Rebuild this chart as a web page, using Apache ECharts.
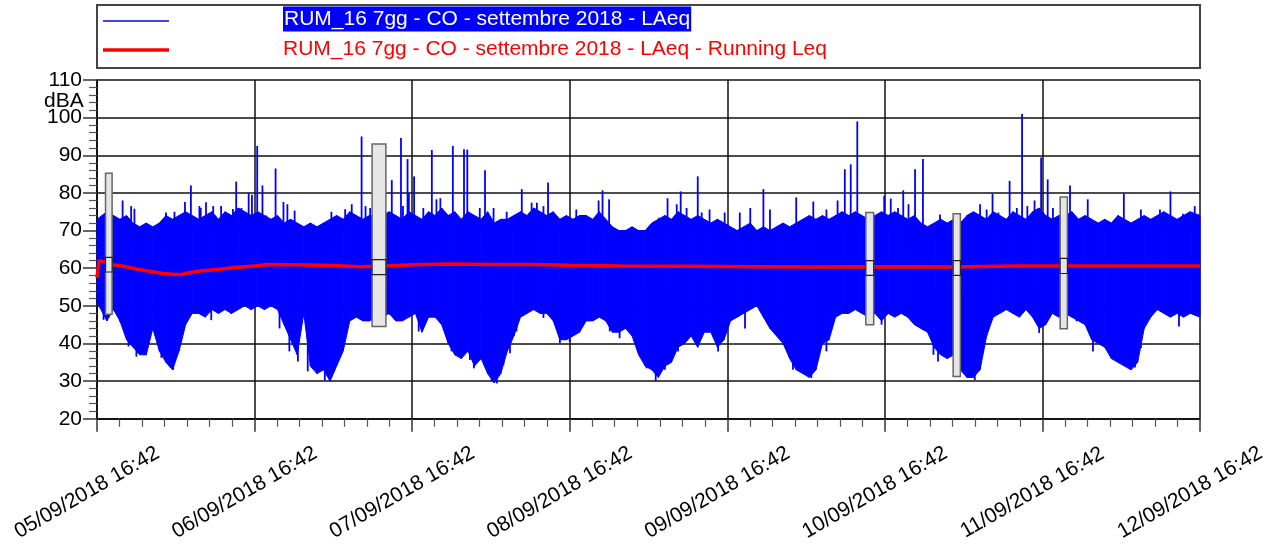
<!DOCTYPE html>
<html>
<head>
<meta charset="utf-8">
<script src="https://cdn.jsdelivr.net/npm/echarts@6/dist/echarts.min.js"></script>
<style>
  html, body { margin: 0; padding: 0; background: #fff; }
  #chart { width: 1278px; height: 544px; }
</style>
</head>
<body>
<div id="chart"></div>
<script>
const seriesNames = [
  "RUM_16 7gg - CO - settembre 2018 - LAeq",
  "RUM_16 7gg - CO - settembre 2018 - LAeq - Running Leq",
];
const xTickLabels = [
  "05/09/2018 16:42", "06/09/2018 16:42", "07/09/2018 16:42", "08/09/2018 16:42",
  "09/09/2018 16:42", "10/09/2018 16:42", "11/09/2018 16:42", "12/09/2018 16:42",
];

// LAeq envelope, one value per hour from 05/09 16:42
const laeqHigh = [
  73, 75, 74, 73, 74, 72, 71, 72, 71, 72, 74, 73, 74, 75, 74, 73, 74, 75, 73, 75, 74, 76, 75, 74,
  75, 74, 73, 74, 72, 73, 72, 71, 72, 71, 72, 73, 74, 73, 75, 74, 73, 74, 74, 74, 75, 74, 73, 75,
  74, 73, 75, 74, 76, 74, 75, 73, 75, 74, 73, 75, 72, 73, 73, 74, 75, 74, 76, 75, 74, 75, 73, 74,
  73, 74, 74, 73, 75, 73, 71, 70, 70, 71, 70, 70, 72, 73, 74, 73, 75, 74, 73, 74, 73, 72, 73, 72,
  71, 70, 71, 72, 70, 71, 70, 71, 72, 71, 72, 73, 74, 73, 74, 73, 74, 75, 74, 75, 74, 73, 74, 75,
  74, 75, 74, 73, 74, 72, 71, 72, 73, 72, 73, 72, 74, 75, 74, 73, 75, 74, 73, 75, 74, 73, 75, 76,
  74, 73, 74, 74, 75, 73, 74, 73, 72, 73, 72, 74, 73, 72, 73, 74, 73, 74, 75, 74, 73, 74, 75, 74,
];
const laeqLow = [
  51, 46, 49, 46, 41, 39, 37, 37, 44, 38, 35, 33, 38, 45, 48, 48, 47, 49, 48, 49, 48, 49, 50, 49,
  50, 49, 50, 49, 45, 41, 37, 48, 34, 32, 33, 30, 34, 38, 46, 47, 46, 46, 47, 47, 48, 46, 46, 47,
  48, 43, 47, 47, 45, 40, 37, 36, 38, 34, 36, 32, 29.5, 32, 38, 42, 47, 48, 49, 48, 48, 46, 41, 41,
  42, 43, 46, 46, 47, 46, 43, 43, 44, 42, 37, 34, 33, 31, 34, 35, 39, 40, 42, 39, 43, 43, 39, 41,
  46, 47, 48, 49, 50, 47, 44, 42, 40, 36, 33, 32, 31, 33, 40, 41, 47, 48, 48, 49, 48, 47, 48, 46,
  48, 47, 48, 47, 45, 44, 43, 39, 37, 36, 37, 33, 31, 31, 33, 42, 47, 48, 49, 48, 47, 49, 47, 44,
  45, 48, 47, 48, 47, 46, 45, 41, 40, 39, 36, 35, 34, 33, 35, 44, 47, 49, 48, 47, 48, 47, 48, 47,
];

// isolated peaks above the envelope
const spikeHours = [
  3.9, 5.2, 5.7, 10.5, 11.8, 13.4, 14.3, 15.6, 15.8, 16.6, 17.7, 18.9, 20.7, 21.2, 22, 23.1, 23.6,
  24.4, 25.2, 25.8, 27.2, 28.4, 29, 30.1, 35.7, 37.8, 38.8, 40.3, 40.9, 41.6,
  44.9, 46.3, 46.6, 47.3, 47.5, 48.3, 49.7, 51, 51.7, 52.3, 54.2, 55.9, 56.4, 58.3, 59.1, 60.4,
  62.4, 64.7, 66.2, 67, 68, 68.7, 73, 76.4, 77, 78,
  85.6, 86.9, 88.3, 88.9, 89.8, 91.5, 92.1, 93.3, 95.6, 97.9, 99.5, 101.5, 102.5, 106.5, 109.1,
  111.1, 112.8, 113.9, 114.8, 115.8, 119.9, 120.9, 122, 122.8, 123.6, 124.6, 125.8,
  128.4, 134.5, 135.5, 136.4, 137.3, 139, 140.1, 140.9, 141.7, 142.8, 143.8, 144.8, 145.6,
  148.2, 150.9, 156.4, 159, 161.9, 163.5, 165.4, 167.2,
];
const spikeValues = [
  78, 76.5, 75.8, 74.8, 75, 77.6, 82, 76.5, 76, 77.5, 76.5, 76.5, 75.7, 83, 76, 80, 79.5,
  92.5, 82, 74, 86.5, 77.6, 77, 75.3, 75, 75.7, 77, 95, 76.5, 76,
  83.4, 94.6, 76.5, 89, 80, 84.4, 76, 91.4, 78.3, 78.6, 92.5, 91.6, 91.5, 76, 86, 76,
  75, 81, 77.4, 77.4, 76.5, 82.8, 75.6, 78, 80.7, 78.3,
  73.4, 78.6, 77, 80.4, 76, 84.4, 74.8, 75.6, 74.8, 74.8, 76, 81, 75.6, 78.8, 77.7,
  75.6, 78, 86.3, 87.6, 99, 79.2, 78.5, 76, 80.7, 77, 86.3, 89,
  74.3, 77, 75.6, 79.8, 74.8, 83.2, 76, 101, 76.5, 78, 89.4, 83.6, 76,
  82, 78.3, 79.8, 75.6, 75.6, 80.4, 74.5, 76.5,
];

// isolated dips below the envelope
const dipHours = [
  1, 3.5, 4.8, 6, 7.3, 9.8, 11.6, 12.8, 14.9, 17.4, 20.4, 23.4, 27.8, 29.3, 30.6, 32.1, 34.7, 36.1, 37.2,
  44.6, 46.6, 49, 53.3, 54, 55.2, 56.8, 57.4, 59.1, 60.1, 60.9, 61.9, 62.9, 63.9, 68, 70.5, 72,
  78.1, 79.6, 82.9, 83.7, 85.1, 86.5, 88.5, 91.3, 94.6, 98.7, 103.8, 106, 108.8, 111.1, 119.5, 125.8,
  127.4, 128.1, 132.4, 133.7, 134.5, 135.7, 140.6, 143.5, 149.2, 151.7, 155.8, 156.8, 158.1, 159, 164.8,
];
const dipValues = [
  46.3, 45.8, 39.2, 36.5, 37, 36.2, 33, 40.5, 48, 46.2, 47.9, 49, 44, 37.9, 35.2, 32.6, 30.2, 32.6, 40.3,
  47.6, 46.3, 43.2, 42.8, 37.9, 36.5, 35.6, 33.4, 35.2, 30, 29.4, 34.3, 37.4, 43.2, 46.8, 40.1, 40.5,
  43.2, 41.4, 37, 33.4, 30, 33, 37.9, 39.6, 37.9, 44, 42.3, 33, 30.8, 37.9, 45, 43.6,
  37, 35.2, 33.4, 30.3, 34.3, 43.2, 47.6, 42.8, 45.9, 37.9, 35.2, 33.9, 33.6, 38.8, 44.5,
];

// running Leq
const leqHours = [0, 0.3, 1, 2, 4, 6, 8, 10, 12, 13, 14, 16, 18, 20, 22, 24, 26, 30, 36, 40, 44, 48,
  54, 60, 66, 72, 80, 90, 100, 110, 120, 130, 140, 150, 160, 168];
const leqValues = [57.5, 62, 61.8, 61, 60.5, 59.8, 59.2, 58.6, 58.3, 58.4, 58.8, 59.3, 59.6, 60, 60.3,
  60.6, 61, 60.9, 60.7, 60.4, 60.6, 60.9, 61.1, 61, 61, 60.8, 60.6, 60.5, 60.4, 60.3, 60.4, 60.3,
  60.6, 60.6, 60.6, 60.6];

// grey event boxes
const boxStart = [1.3, 41.9, 117.1, 130.4, 146.7];
const boxEnd = [2.3, 44, 118.3, 131.5, 147.8];
const boxLow = [47.8, 44.5, 45, 31.2, 43.9];
const boxHigh = [85.2, 93, 74.8, 74.5, 78.9];
const boxQ1 = [59, 58.3, 58.1, 58.1, 58.6];
const boxQ3 = [62.9, 62.3, 62, 62, 62.6];

const font = "Liberation Sans, Arial, sans-serif";
const chart = echarts.init(document.getElementById("chart"));

// vertex time of each hourly value (first and last pinned to the axis ends)
const last = laeqLow.length - 1;
const vertexTime = (i) => (i === 0 ? 0 : i === last ? 168 : i + 0.5);
const envelopeData = laeqLow.slice(0, last).map((lo, i) => [
  vertexTime(i), lo, laeqHigh[i], vertexTime(i + 1), laeqLow[i + 1], laeqHigh[i + 1],
]);

// thin vertical needle from a base level to the data value
const needle = (base) => (params, api) => {
  const tip = api.coord([api.value(0), api.value(1)]);
  const root = api.coord([api.value(0), base]);
  return {
    type: "line",
    shape: { x1: tip[0], y1: tip[1], x2: root[0], y2: root[1] },
    style: { stroke: "#0000ff", lineWidth: 1.8 },
  };
};

const options = {
  animation: false,
  grid: { left: 97, top: 80, width: 1103, height: 339 },
  xAxis: {
    type: "value",
    min: 0,
    max: 168,
    interval: 24,
    axisLine: { show: true, lineStyle: { color: "#000", width: 1.5 } },
    axisTick: { show: true, length: 13, lineStyle: { color: "#333", width: 1.5 } },
    minorTick: { show: true, splitNumber: 7, length: 8, lineStyle: { color: "#555", width: 1.2 } },
    splitLine: { show: true, lineStyle: { color: "#111", width: 1.5 } },
    axisLabel: {
      rotate: 30,
      align: "center",
      verticalAlign: "middle",
      margin: 68,
      padding: [0, 23, 0, 0],
      fontSize: 21,
      fontFamily: font,
      color: "#000",
      formatter: (v) => xTickLabels[Math.round(v / 24)],
    },
  },
  yAxis: {
    type: "value",
    min: 20,
    max: 110,
    interval: 10,
    axisLine: { show: true, lineStyle: { color: "#000", width: 1.5 } },
    axisTick: { show: true, length: 14, lineStyle: { color: "#333", width: 1.5 } },
    minorTick: { show: true, splitNumber: 5, length: 8, lineStyle: { color: "#555", width: 1.2 } },
    splitLine: { show: true, lineStyle: { color: "#111", width: 1.5 } },
    axisLabel: { fontSize: 21, fontFamily: font, color: "#000", margin: 15 },
  },
  graphic: [
    {
      type: "text",
      left: 44,
      top: 91,
      style: { text: "dBA", font: "21px " + font, fill: "#000" },
    },
    {
      type: "rect",
      shape: { x: 97, y: 5, width: 1103, height: 63 },
      style: { fill: "#fff", stroke: "#444", lineWidth: 2 },
      z: 1,
    },
    {
      type: "line",
      shape: { x1: 103, y1: 21, x2: 169, y2: 21 },
      style: { stroke: "#0000ff", lineWidth: 1.5 },
      z: 2,
    },
    {
      type: "line",
      shape: { x1: 103, y1: 50, x2: 169, y2: 50 },
      style: { stroke: "#ff0000", lineWidth: 3.5 },
      z: 2,
    },
    {
      type: "text",
      x: 283,
      y: 19,
      style: {
        text: seriesNames[0],
        font: "21px " + font,
        fill: "#fff",
        backgroundColor: "#0000ff",
        padding: [2, 1, 2, 1],
        verticalAlign: "middle",
      },
      z: 2,
    },
    {
      type: "text",
      x: 283,
      y: 49,
      style: { text: seriesNames[1], font: "21px " + font, fill: "#ff0000", verticalAlign: "middle" },
      z: 2,
    },
  ],
  series: [
    {
      name: seriesNames[0],
      type: "custom",
      z: 2,
      data: envelopeData,
      encode: { x: [0, 3], y: [1, 2, 4, 5] },
      renderItem: (params, api) => {
        const a = api.coord([api.value(0), api.value(2)]);
        const b = api.coord([api.value(3), api.value(5)]);
        const c = api.coord([api.value(3), api.value(4)]);
        const d = api.coord([api.value(0), api.value(1)]);
        return {
          type: "polygon",
          shape: { points: [a, b, c, d] },
          style: { fill: "#0000ff", stroke: "#0000ff", lineWidth: 1 },
        };
      },
    },
    {
      name: seriesNames[0] + " peaks",
      type: "custom",
      z: 2,
      data: spikeHours.map((h, i) => [h, spikeValues[i]]),
      encode: { x: 0, y: 1 },
      renderItem: needle(66),
    },
    {
      name: seriesNames[0] + " dips",
      type: "custom",
      z: 2,
      data: dipHours.map((h, i) => [h, dipValues[i]]),
      encode: { x: 0, y: 1 },
      renderItem: needle(55),
    },
    {
      name: seriesNames[1],
      type: "line",
      z: 3,
      showSymbol: false,
      data: leqHours.map((h, i) => [h, leqValues[i]]),
      lineStyle: { color: "#ff0000", width: 3.5 },
    },
    {
      name: "events",
      type: "custom",
      z: 4,
      data: boxStart.map((s, i) => [s, boxEnd[i], boxLow[i], boxHigh[i], boxQ1[i], boxQ3[i]]),
      encode: { x: [0, 1], y: [2, 3] },
      renderItem: (params, api) => {
        const a = api.coord([api.value(0), api.value(3)]);
        const b = api.coord([api.value(1), api.value(2)]);
        const q3 = api.coord([api.value(0), api.value(5)]);
        const q1 = api.coord([api.value(1), api.value(4)]);
        return {
          type: "group",
          children: [
            {
              type: "rect",
              shape: { x: a[0], y: a[1], width: b[0] - a[0], height: b[1] - a[1] },
              style: { fill: "#e6e6e6", stroke: "#666", lineWidth: 1.5 },
            },
            {
              type: "rect",
              shape: { x: q3[0], y: q3[1], width: q1[0] - q3[0], height: q1[1] - q3[1] },
              style: { fill: "#e6e6e6", stroke: "#222", lineWidth: 1.2 },
            },
          ],
        };
      },
    },
  ],
};

chart.setOption(options);
</script>
</body>
</html>
